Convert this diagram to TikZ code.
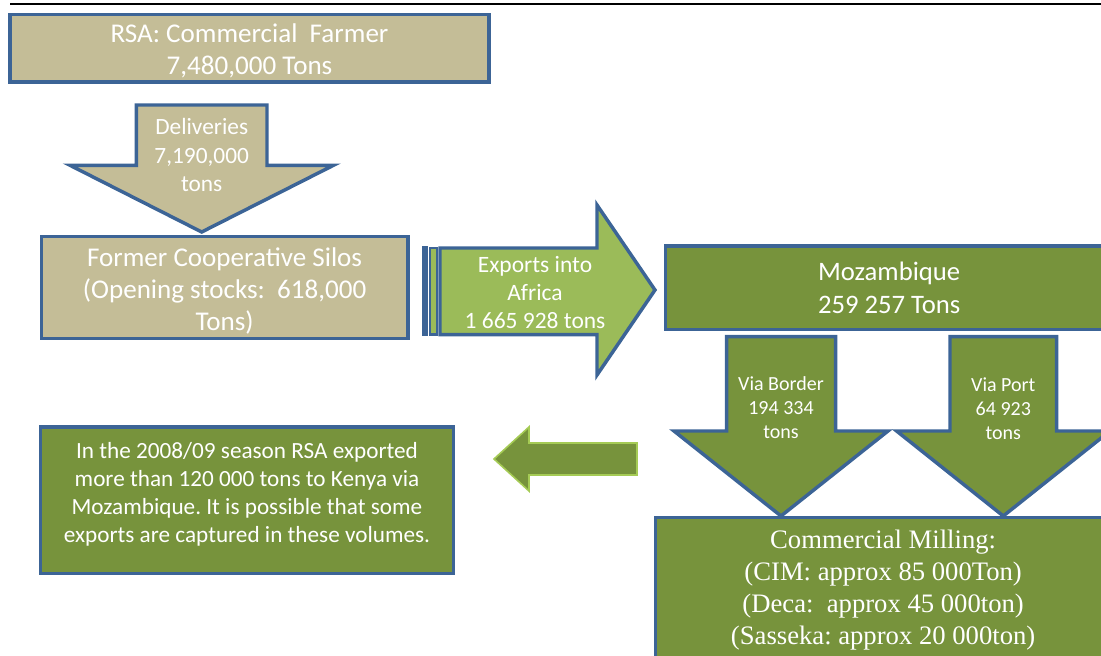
\documentclass[tikz,border=0pt]{standalone}
\usepackage{fontspec}
\setmainfont{Carlito}
\newfontfamily\serifrm{Liberation Serif}
\frenchspacing
\definecolor{tanc}{HTML}{C4BD97}
\definecolor{olive}{HTML}{77933C}
\definecolor{lgreen}{HTML}{9BBB59}
\definecolor{bblue}{HTML}{3C6496}
\definecolor{arrowrim}{HTML}{A5CB55}
\tikzset{
  bx/.style={draw=bblue, line width=2.6pt, inner sep=0pt, text=white, align=center},
  tanbox/.style={bx, fill=tanc},
  olivebox/.style={bx, fill=olive},
  blk/.style={draw=bblue, line width=2.6pt, line join=miter},
  lbl/.style={text=white, align=center, inner sep=0pt},
}
\begin{document}
\begin{tikzpicture}[x=0.75pt,y=-0.75pt]
\useasboundingbox (0,0) rectangle (1101,656);
\clip (0,0) rectangle (1101,656);
% top rule
\coordinate (ruleL) at (10,3.8);
\coordinate (ruleR) at (1101,3.8);
\draw[line width=1.7pt, black] (ruleL) -- (ruleR);

% boxes
\node[tanbox, minimum width=479*0.75pt, minimum height=67.5*0.75pt] (farmer) at (249.5,48.25) {};
\node[lbl, font=\fontsize{20.3}{24}\selectfont] (farmertxt) at (249.5,51)
      {RSA: Commercial\ \ Farmer\\7,480,000 Tons};
\node[tanbox, minimum width=366.7*0.75pt, minimum height=102.4*0.75pt] (silos) at (224.6,287.5) {};
\node[lbl, font=\fontsize{20.3}{24}\selectfont] (silostxt) at (224.6,290.5)
      {Former Cooperative Silos\\(Opening stocks:\ \ 618,000\\Tons)};
\node[olivebox, minimum width=447.7*0.75pt, minimum height=83.5*0.75pt,
      font=\fontsize{20}{24.75}\selectfont] (moz) at (889.15,287.75)
      {Mozambique\\259 257 Tons};
\node[olivebox, minimum width=455.7*0.75pt, minimum height=144.3*0.75pt,
      font=\serifrm\fontsize{20}{24}\selectfont] (milling) at (883.15,589.85)
      {Commercial Milling:\\(CIM: approx 85 000Ton)\\(Deca:\ \ approx 45 000ton)\\(Sasseka: approx 20 000ton)};
\node[olivebox, minimum width=413.4*0.75pt, minimum height=146.7*0.75pt] (kenyabox) at (247,500.35) {};
\node[lbl, font=\fontsize{17.4}{21}\selectfont] (kenya) at (247,494)
      {In the 2008/09 season RSA exported\\more than 120 000 tons to Kenya via\\Mozambique. It is possible that some\\exports are captured in these volumes.};

% deliveries arrow
\draw[blk, fill=tanc] (136.3,105) -- (267,105) -- (267,165.3) -- (333.5,165.3)
   -- (201.7,232) -- (70,165.3) -- (136.3,165.3) -- cycle;
\node[lbl, font=\fontsize{17.5}{21.4}\selectfont] (deliv) at (201.7,155)
      {Deliveries\\7,190,000\\tons};

% exports striped arrow
\draw[draw=bblue, line width=2.4pt, fill=lgreen] (423.5,248) rectangle (426.5,334.7);
\draw[draw=bblue, line width=2pt, fill=lgreen] (430,248) rectangle (437,334.7);
\draw[blk, fill=lgreen] (440,248) -- (597,248) -- (597,205) -- (655,290)
   -- (597,375) -- (597,334.7) -- (440,334.7) -- cycle;
\node[lbl, font=\fontsize{17.6}{21}\selectfont] (exports) at (535,292.5)
      {Exports into\\Africa\\1 665 928 tons};

% via border
\draw[blk, fill=olive] (726.7,336.7) -- (835.7,336.7) -- (835.7,431) -- (888,431)
   -- (781,516) -- (674,431) -- (726.7,431) -- cycle;
\node[lbl, font=\fontsize{15}{18}\selectfont] (border) at (781,408)
      {Via Border\\194 334\\tons};

% via port
\draw[blk, fill=olive] (950,336.7) -- (1056.7,336.7) -- (1056.7,431) -- (1110,431)
   -- (1003.3,516) -- (896.6,431) -- (950,431) -- cycle;
\node[lbl, font=\fontsize{15}{18}\selectfont] (port) at (1003.3,409)
      {Via Port\\64 923\\tons};

% left arrow
\draw[draw=arrowrim, line width=1.2pt, fill=olive, line join=miter]
   (494,459) -- (529,427) -- (529,443) -- (637,443) -- (637,475) -- (529,475)
   -- (529,491) -- cycle;
\end{tikzpicture}
\end{document}
